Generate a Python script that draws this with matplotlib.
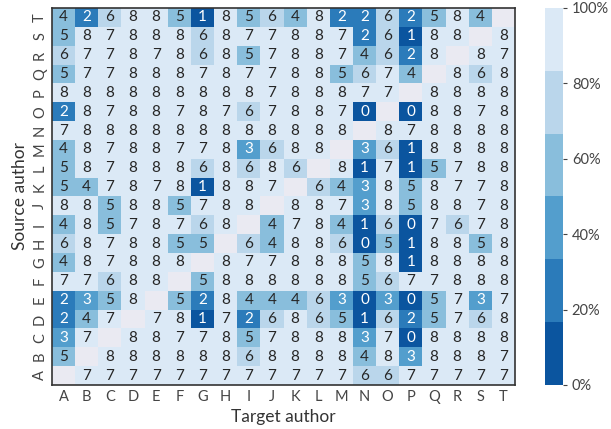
import numpy as np
import matplotlib
matplotlib.use("Agg")
import matplotlib.pyplot as plt
import seaborn as sns
from matplotlib.colors import ListedColormap
from matplotlib.ticker import FuncFormatter

authors = list("ABCDEFGHIJKLMNOPQRST")
n = None  # diagonal / missing cell

# successful attacks out of 8, one row per source author (A..T), columns are target authors A..T
row_A = [n, 7, 7, 7, 7, 7, 7, 7, 7, 7, 7, 7, 7, 6, 6, 7, 7, 7, 7, 7]
row_B = [5, n, 8, 8, 8, 8, 8, 8, 6, 8, 8, 8, 8, 4, 8, 3, 8, 8, 8, 7]
row_C = [3, 7, n, 8, 8, 7, 7, 8, 5, 7, 8, 8, 8, 3, 7, 0, 8, 8, 8, 8]
row_D = [2, 4, 7, n, 7, 8, 1, 7, 2, 6, 8, 6, 5, 1, 6, 2, 5, 7, 6, 8]
row_E = [2, 3, 5, 8, n, 5, 2, 8, 4, 4, 4, 6, 3, 0, 3, 0, 5, 7, 3, 7]
row_F = [7, 7, 6, 8, 8, n, 5, 8, 8, 8, 8, 8, 8, 5, 6, 7, 7, 8, 8, 8]
row_G = [4, 8, 7, 8, 8, 8, n, 8, 7, 7, 8, 8, 8, 5, 8, 1, 8, 8, 8, 8]
row_H = [6, 8, 7, 8, 8, 5, 5, n, 6, 4, 8, 8, 6, 0, 5, 1, 8, 8, 5, 8]
row_I = [4, 8, 5, 7, 8, 7, 6, 8, n, 4, 7, 8, 4, 1, 6, 0, 7, 6, 7, 8]
row_J = [8, 8, 5, 8, 8, 5, 7, 8, 8, n, 8, 8, 7, 3, 8, 5, 8, 8, 7, 8]
row_K = [5, 4, 7, 8, 7, 8, 1, 8, 8, 7, n, 6, 4, 3, 8, 5, 8, 7, 7, 8]
row_L = [5, 8, 7, 8, 8, 8, 6, 8, 6, 8, 6, n, 8, 1, 7, 1, 5, 7, 8, 8]
row_M = [4, 8, 7, 8, 8, 7, 7, 8, 3, 6, 8, 8, n, 3, 6, 1, 8, 8, 8, 8]
row_N = [7, 8, 8, 8, 8, 8, 8, 8, 8, 8, 8, 8, 8, n, 8, 7, 8, 8, 8, 8]
row_O = [2, 8, 7, 8, 8, 7, 8, 7, 6, 7, 8, 8, 7, 0, n, 0, 8, 8, 7, 8]
row_P = [8, 8, 8, 8, 8, 8, 8, 8, 8, 7, 8, 8, 8, 7, 7, n, 8, 8, 8, 8]
row_Q = [5, 7, 7, 8, 8, 8, 7, 8, 7, 7, 8, 8, 5, 6, 7, 4, n, 8, 6, 8]
row_R = [6, 7, 7, 8, 7, 8, 6, 8, 5, 7, 8, 8, 7, 4, 6, 2, 8, n, 8, 7]
row_S = [5, 8, 7, 8, 8, 8, 6, 8, 7, 7, 8, 8, 7, 2, 6, 1, 8, 8, n, 8]
row_T = [4, 2, 6, 8, 8, 5, 1, 8, 5, 6, 4, 8, 2, 2, 6, 2, 5, 8, 4, n]

rows = [row_A, row_B, row_C, row_D, row_E, row_F, row_G, row_H, row_I, row_J,
        row_K, row_L, row_M, row_N, row_O, row_P, row_Q, row_R, row_S, row_T]
total = 8

counts = np.array([[np.nan if v is None else v for v in r] for r in rows], dtype=float)
# top row is T, bottom row is A
counts = counts[::-1]
frac = counts / total
labels = np.where(np.isnan(counts), "", np.nan_to_num(counts).astype(int).astype(str))

sns.set_style("white")
plt.rcParams["font.family"] = ["Lato", "DejaVu Sans"]

fig = plt.figure(figsize=(6.11, 4.29), dpi=100)
ax = fig.add_axes([0.085, 0.1026, 0.758, 0.8788])
cax = fig.add_axes([0.892, 0.1026, 0.029, 0.8788])

cmap = ListedColormap(sns.color_palette("Blues_r", 6))
sns.heatmap(frac, ax=ax, cbar_ax=cax, cmap=cmap, vmin=0, vmax=1,
            annot=labels, fmt="", annot_kws={"fontsize": 11},
            xticklabels=authors, yticklabels=authors[::-1],
            linewidths=0)
ax.set_facecolor("#eaeaf2")
for s in ax.spines.values():
    s.set_visible(True)
    s.set_color("#333333")
    s.set_linewidth(1.2)

ax.set_xlabel("Target author", fontsize=12.5, color="#333333")
ax.set_ylabel("Source author", fontsize=12.5, color="#333333")
ax.tick_params(axis="both", length=0, labelsize=10.5, colors="#444444")
ax.set_yticklabels(authors[::-1], rotation=90, va="center")
ax.set_xticklabels(authors, rotation=0)

cb = ax.collections[0].colorbar
cb.set_ticks([0, 0.2, 0.4, 0.6, 0.8, 1.0])
cb.ax.yaxis.set_major_formatter(FuncFormatter(lambda v, p: f"{v * 100:.0f}%"))
cb.ax.tick_params(labelsize=10.5, length=3, colors="#444444")
cb.outline.set_visible(False)

fig.savefig("out.png", dpi=100)
